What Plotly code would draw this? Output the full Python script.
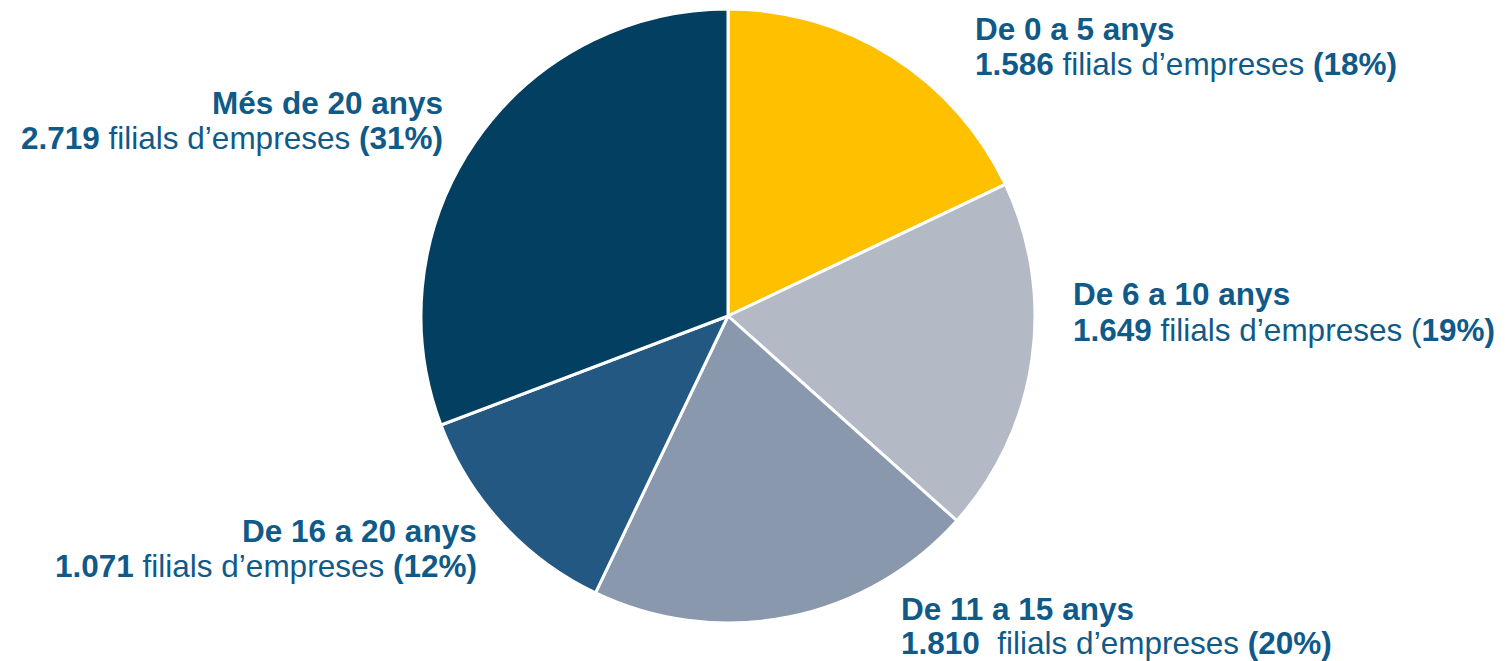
import plotly.graph_objects as go

W, H = 1509, 661
categories = ["De 0 a 5 anys", "De 6 a 10 anys", "De 11 a 15 anys", "De 16 a 20 anys", "Més de 20 anys"]
values = [1586, 1649, 1810, 1071, 2719]
value_labels = ["1.586", "1.649", "1.810 ", "1.071", "2.719"]
pct_labels = ["18%", "19%", "20%", "12%", "31%"]
colors = ["#FFC000", "#B4BAC5", "#8A98AD", "#235883", "#023F60"]

cx, cy, r = 728, 316, 307
fig = go.Figure(go.Pie(
    labels=categories, values=values, sort=False, direction="clockwise", rotation=0,
    marker=dict(colors=colors, line=dict(color="white", width=3)),
    textinfo="none", hoverinfo="label+value+percent", showlegend=False,
    domain=dict(x=[(cx - r) / W, (cx + r) / W], y=[1 - (cy + r) / H, 1 - (cy - r) / H]),
))

txt_color = "#0F5A88"
FS = 31.5
# (x edge, line1 center y, line2 center y, anchor)
pos = [(975, 28.5, 62.5, "left"), (1073, 292.5, 329, "left"), (901, 608, 642, "left"),
       (477, 529.5, 565, "right"), (443, 102, 136.5, "right")]
for i, (x, y1, y2, anc) in enumerate(pos):
    if i == 1:
        pct = f"(<b>{pct_labels[i]})</b>"
    else:
        pct = f"<b>({pct_labels[i]})</b>"
    lines = [f"<b>{categories[i]}</b>", f"<b>{value_labels[i]}</b> filials d’empreses {pct}"]
    xx = x - 2 if anc == "left" else x + 2
    for yy, t in zip((y1, y2), lines):
        fig.add_annotation(
            x=xx / W, y=1 - (yy + 1) / H, xref="paper", yref="paper",
            xanchor=anc, yanchor="middle", align=anc, showarrow=False, text=t,
            font=dict(family="Liberation Sans, Arial", size=FS, color=txt_color),
        )

fig.update_layout(width=W, height=H, margin=dict(l=0, r=0, t=0, b=0),
                  paper_bgcolor="white", plot_bgcolor="white")
fig.write_html("out.html", config={"displayModeBar": False},
               post_script="document.body.style.margin='0';")
